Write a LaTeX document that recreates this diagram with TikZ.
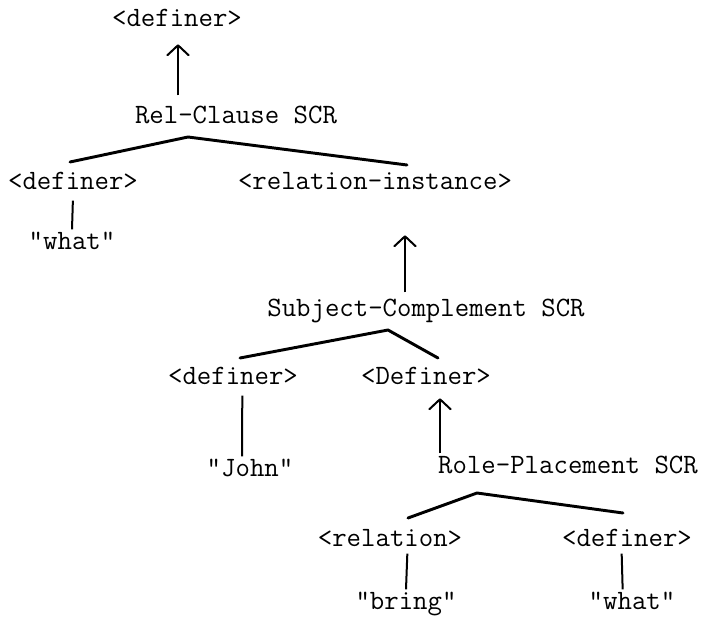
\documentclass[tikz,border=0pt]{standalone}
\usepackage{fontspec}
\usetikzlibrary{arrows.meta}
\newfontfamily\typewr{Latin Modern Mono}

\begin{document}
\begin{tikzpicture}[
    x=0.75pt, y=-0.75pt,
    lbl/.style={font=\typewr\fontsize{21}{23}\selectfont, inner sep=1pt, text height=14pt, text depth=4pt},
    branch/.style={line width=2.2pt, line cap=round, line join=round},
    stem/.style={line width=1.5pt},
    up/.style={stem, -{Straight Barb[length=7.5pt, width=16pt, line width=1.5pt, round]}}
  ]
    \useasboundingbox (0,0) rectangle (726,618);

    % nodes of the tree
    \node[lbl] (top) at (177,20) {<definer>};
    \node[lbl] (rel) at (236,117) {Rel-Clause SCR};
    \node[lbl] (def2) at (73,183) {<definer>};
    \node[lbl] (relinst) at (375,183) {<relation-instance>};
    \node[lbl] (what1) at (72,243) {"what"};
    \node[lbl] (subj) at (426,310) {Subject-Complement SCR};
    \node[lbl] (def3) at (233,378) {<definer>};
    \node[lbl] (Def) at (426,378) {<Definer>};
    \node[lbl] (john) at (250,470) {"John"};
    \node[lbl] (role) at (568,467) {Role-Placement SCR};
    \node[lbl] (relation) at (390,540) {<relation>};
    \node[lbl] (def4) at (627,540) {<definer>};
    \node[lbl] (bring) at (406,603) {"bring"};
    \node[lbl] (what2) at (632,603) {"what"};

    % branch points
    \coordinate (rel-l) at (70,162);
    \coordinate (rel-a) at (188,137);
    \coordinate (rel-r) at (407,165);
    \coordinate (subj-l) at (240,358);
    \coordinate (subj-a) at (388,330);
    \coordinate (subj-r) at (438,358);
    \coordinate (role-l) at (408,518);
    \coordinate (role-a) at (477,493);
    \coordinate (role-r) at (623,513);

    \draw[branch] (rel-l) -- (rel-a) -- (rel-r);
    \draw[branch] (subj-l) -- (subj-a) -- (subj-r);
    \draw[branch] (role-l) -- (role-a) -- (role-r);

    % arrows up
    \draw[up, shorten <=6pt, shorten >=8pt] ([xshift=0.75pt]top.south |- rel.north) -- ([xshift=0.75pt]top.south);
    \draw[up, shorten <=3pt, shorten >=29pt] ([xshift=22.5pt]relinst.south |- subj.north) -- ([xshift=22.5pt]relinst.south);
    \draw[up, shorten >=5pt] ([xshift=10.5pt]Def.south |- role.north) -- ([xshift=10.5pt]Def.south);

    % stems down
    \draw[stem, shorten <=3pt] (def2.south) -- (what1.north);
    \draw[stem, shorten <=3pt] ([xshift=7pt]def3.south) -- ([xshift=-6pt]john.north);
    \draw[stem] ([xshift=13pt]relation.south) -- (bring.north);
    \draw[stem] ([xshift=-4pt]def4.south) -- ([xshift=-7pt]what2.north);
  \end{tikzpicture}
\end{document}
